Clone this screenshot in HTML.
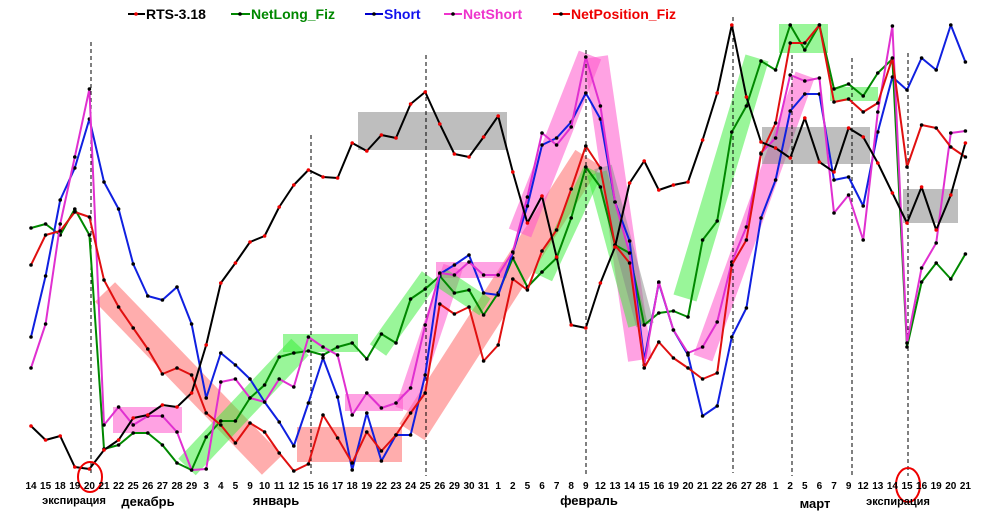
<!DOCTYPE html>
<html><head><meta charset="utf-8"><style>
html,body{margin:0;padding:0;background:#fff;}
svg{display:block;font-family:"Liberation Sans",Arial,sans-serif;}
</style></head><body>
<svg id="c" width="981" height="513" viewBox="0 0 981 513" xmlns="http://www.w3.org/2000/svg">
<g id="hl">
 <line x1="105" y1="292" x2="272" y2="465" stroke="#f77" stroke-opacity="0.6" stroke-width="28"/>
 <rect x="297" y="427" width="105" height="35" fill="#f77" fill-opacity="0.6"/>
 <line x1="412" y1="432" x2="588" y2="158" stroke="#f77" stroke-opacity="0.6" stroke-width="30"/>
 <rect x="113" y="407" width="69" height="26" fill="#f5c" fill-opacity="0.55"/>
 <rect x="345" y="394" width="58" height="17" fill="#f5c" fill-opacity="0.55"/>
 <line x1="405" y1="410" x2="453" y2="267" stroke="#f5c" stroke-opacity="0.55" stroke-width="20"/>
 <rect x="436" y="262" width="71" height="16" fill="#f5c" fill-opacity="0.55"/>
 <line x1="520" y1="233" x2="590" y2="55" stroke="#f5c" stroke-opacity="0.55" stroke-width="24"/>
 <line x1="596" y1="57" x2="640" y2="360" stroke="#f5c" stroke-opacity="0.55" stroke-width="24"/>
 <line x1="703" y1="358" x2="805" y2="75" stroke="#f5c" stroke-opacity="0.55" stroke-width="20"/>
 <line x1="187" y1="467" x2="300" y2="347" stroke="#3e3" stroke-opacity="0.5" stroke-width="24"/>
 <rect x="283" y="334" width="75" height="18" fill="#3e3" fill-opacity="0.5"/>
 <line x1="378" y1="350" x2="430" y2="277" stroke="#3e3" stroke-opacity="0.5" stroke-width="20"/>
 <line x1="440" y1="277" x2="485" y2="307" stroke="#3e3" stroke-opacity="0.5" stroke-width="20"/>
 <line x1="543" y1="277" x2="593" y2="170" stroke="#3e3" stroke-opacity="0.5" stroke-width="20"/>
 <line x1="597" y1="173" x2="638" y2="325" stroke="#3e3" stroke-opacity="0.5" stroke-width="20"/>
 <line x1="685" y1="298" x2="757" y2="58" stroke="#3e3" stroke-opacity="0.5" stroke-width="24"/>
 <rect x="779" y="24" width="49" height="29" fill="#3e3" fill-opacity="0.5"/>
 <rect x="830" y="87" width="48" height="14" fill="#3e3" fill-opacity="0.5"/>
 <line x1="603" y1="167" x2="645" y2="325" stroke="#888" stroke-opacity="0.5" stroke-width="18"/>
 <rect x="358" y="112" width="149" height="38" fill="#888" fill-opacity="0.55"/>
 <rect x="762" y="127" width="108" height="37" fill="#888" fill-opacity="0.55"/>
 <rect x="903" y="189" width="55" height="34" fill="#888" fill-opacity="0.55"/>
</g>
<g stroke="#000" stroke-width="1" stroke-dasharray="4,3">
 <line x1="91" y1="42" x2="91" y2="474"/>
 <line x1="311" y1="135" x2="311" y2="474"/>
 <line x1="426" y1="55" x2="426" y2="476"/>
 <line x1="586" y1="50" x2="586" y2="476"/>
 <line x1="733" y1="17" x2="733" y2="473"/>
 <line x1="792" y1="55" x2="792" y2="476"/>
 <line x1="852" y1="58" x2="852" y2="476"/>
 <line x1="908" y1="53" x2="908" y2="476"/>
</g>
<g id="series"></g>
<ellipse cx="90" cy="477" rx="12" ry="15" fill="none" stroke="#e00" stroke-width="2"/>
<ellipse cx="908" cy="485" rx="12" ry="17" fill="none" stroke="#e00" stroke-width="2"/>
<g font-size="14" font-weight="bold">
 <line x1="128" y1="14" x2="145" y2="14" stroke="#000" stroke-width="2"/><circle cx="136" cy="14" r="1.8" fill="#e00"/>
 <text x="146" y="19" fill="#000">RTS-3.18</text>
 <line x1="231" y1="14" x2="250" y2="14" stroke="#080" stroke-width="2"/><circle cx="240" cy="14" r="1.8" fill="#000"/>
 <text x="251" y="19" fill="#080">NetLong_Fiz</text>
 <line x1="365" y1="14" x2="383" y2="14" stroke="#00c" stroke-width="2"/><circle cx="374" cy="14" r="1.8" fill="#000"/>
 <text x="384" y="19" fill="#11e">Short</text>
 <line x1="444" y1="14" x2="462" y2="14" stroke="#e3c" stroke-width="2"/><circle cx="453" cy="14" r="1.8" fill="#000"/>
 <text x="463" y="19" fill="#e3c">NetShort</text>
 <line x1="553" y1="14" x2="570" y2="14" stroke="#e00" stroke-width="2"/><circle cx="561" cy="14" r="1.8" fill="#000"/>
 <text x="571" y="19" fill="#e00">NetPosition_Fiz</text>
</g>
<g font-size="10" font-weight="bold" text-anchor="middle" fill="#000">
<text x="31" y="489">14</text><text x="45.6" y="489">15</text><text x="60.2" y="489">18</text><text x="74.8" y="489">19</text><text x="89.4" y="489">20</text><text x="104" y="489">21</text><text x="118.6" y="489">22</text><text x="133.2" y="489">25</text><text x="147.8" y="489">26</text><text x="162.4" y="489">27</text><text x="177" y="489">28</text><text x="191.6" y="489">29</text><text x="206.2" y="489">3</text><text x="220.8" y="489">4</text><text x="235.4" y="489">5</text><text x="250" y="489">9</text><text x="264.6" y="489">10</text><text x="279.2" y="489">11</text><text x="293.8" y="489">12</text><text x="308.4" y="489">15</text><text x="323" y="489">16</text><text x="337.6" y="489">17</text><text x="352.2" y="489">18</text><text x="366.8" y="489">19</text><text x="381.4" y="489">22</text><text x="396" y="489">23</text><text x="410.6" y="489">24</text><text x="425.2" y="489">25</text><text x="439.8" y="489">26</text><text x="454.4" y="489">29</text><text x="469" y="489">30</text><text x="483.6" y="489">31</text><text x="498.2" y="489">1</text><text x="512.8" y="489">2</text><text x="527.4" y="489">5</text><text x="542" y="489">6</text><text x="556.6" y="489">7</text><text x="571.2" y="489">8</text><text x="585.8" y="489">9</text><text x="600.4" y="489">12</text><text x="615" y="489">13</text><text x="629.6" y="489">14</text><text x="644.2" y="489">15</text><text x="658.8" y="489">16</text><text x="673.4" y="489">19</text><text x="688" y="489">20</text><text x="702.6" y="489">21</text><text x="717.2" y="489">22</text><text x="731.8" y="489">26</text><text x="746.4" y="489">27</text><text x="761" y="489">28</text><text x="775.6" y="489">1</text><text x="790.2" y="489">2</text><text x="804.8" y="489">5</text><text x="819.4" y="489">6</text><text x="834" y="489">7</text><text x="848.6" y="489">9</text><text x="863.2" y="489">12</text><text x="877.8" y="489">13</text><text x="892.4" y="489">14</text><text x="907" y="489">15</text><text x="921.6" y="489">16</text><text x="936.2" y="489">19</text><text x="950.8" y="489">20</text><text x="965.4" y="489">21</text>
</g>
<g font-weight="bold" text-anchor="middle" fill="#000">
 <text x="74" y="504" font-size="11">экспирация</text>
 <text x="148" y="506" font-size="13">декабрь</text>
 <text x="276" y="505" font-size="13">январь</text>
 <text x="589" y="505" font-size="13">февраль</text>
 <text x="815" y="508" font-size="13">март</text>
 <text x="898" y="505" font-size="11">экспирация</text>
</g>
</svg>
<script>
var X=function(i){return 31+14.6*i;};
var S=[
 ["#080","#000",[228,224,235,209,235,449,445,433,433,445,463,470,437,421,421,398,385,357,353,351,355,347,343,359,334,343,299,289,276,293,290,315,293,258,287,272,258,218,167,187,245,253,325,313,311,317,240,221,132,106,61,70,25,50,25,89,84,96,73,59,347,282,263,279,254]],
 ["#1020e0","#000",[337,276,200,168,119,182,209,264,296,300,287,324,398,353,365,379,402,422,446,403,358,397,470,413,461,435,435,375,274,265,255,293,295,253,206,145,138,122,93,119,202,241,360,283,330,355,416,406,337,308,218,180,111,94,94,180,177,206,132,77,90,58,70,25,62]],
 ["#e030d0","#000",[368,324,224,157,89,425,407,425,416,416,432,470,469,382,379,398,402,379,387,337,347,355,415,393,408,403,388,325,273,275,262,275,275,252,197,133,145,127,57,106,202,253,365,282,330,353,347,322,262,227,153,138,75,81,78,213,195,240,112,26,343,268,243,133,131]],
 ["#e01010","#000",[265,235,231,212,217,280,307,328,349,374,368,375,413,425,443,423,432,453,471,464,415,438,463,432,451,435,413,393,304,314,307,361,345,279,290,251,230,189,146,168,245,263,368,342,358,368,379,373,265,240,154,123,43,43,25,102,99,112,103,58,167,125,128,147,157]],
 ["#000","#e00",[426,440,436,467,469,450,440,418,415,405,407,393,345,283,263,242,236,207,185,170,177,178,143,151,135,138,104,92,124,154,157,137,116,172,223,196,257,325,328,283,247,183,161,190,185,182,140,93,25,97,142,148,158,118,162,172,128,137,163,193,223,187,230,195,143]]
];
var g=document.getElementById("series"),h="";
S.forEach(function(s){
 var p=s[2].map(function(y,i){return X(i).toFixed(1)+","+y;}).join(" ");
 h+='<polyline points="'+p+'" fill="none" stroke="'+s[0]+'" stroke-width="2" stroke-linejoin="round"/>';
 s[2].forEach(function(y,i){h+='<circle cx="'+X(i).toFixed(1)+'" cy="'+y+'" r="1.8" fill="'+s[1]+'"/>';});
});
g.innerHTML=h;
</script>
</body></html>
